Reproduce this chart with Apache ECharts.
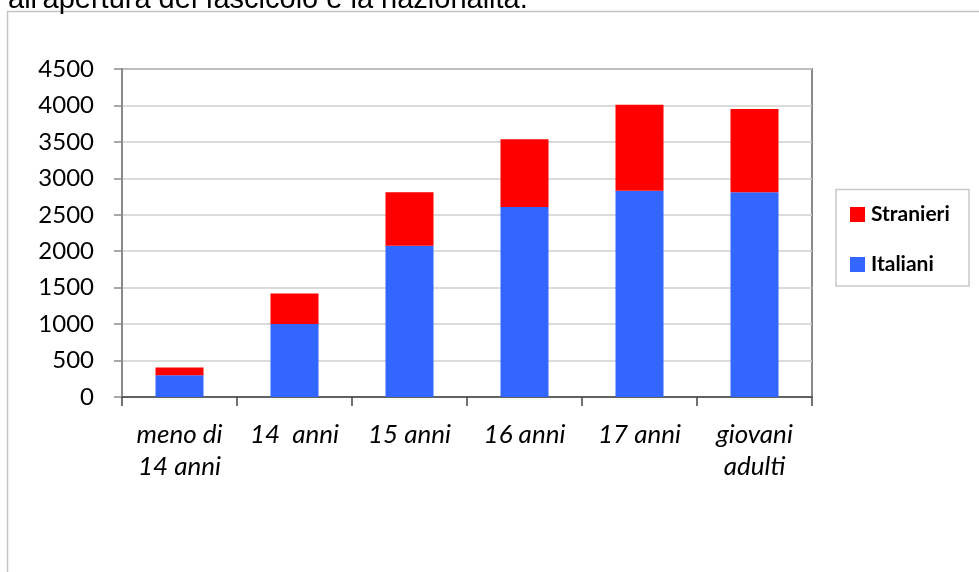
<!DOCTYPE html>
<html><head><meta charset="utf-8">
<script src="https://cdn.jsdelivr.net/npm/echarts@6/dist/echarts.min.js"></script>
<style>html,body{margin:0;padding:0;background:#fff}#c{width:979px;height:572px}</style>
</head><body><div id="c"></div>
<script>
const categories = ['meno di\n14 anni', '14  anni', '15 anni', '16 anni', '17 anni', 'giovani\nadulti'];
const italiani = [300, 1000, 2075, 2605, 2830, 2810];
const stranieri = [105, 420, 735, 930, 1180, 1140];
const yMin = 0, yMax = 4500, yInterval = 500;
const titleText = "all'apertura del fascicolo e la nazionalità.";
const legendNames = ['Stranieri', 'Italiani'];

const chart = echarts.init(document.getElementById('c'), null, {renderer: 'canvas'});
const labelFont = 'Lato';
chart.setOption({
  animation: false,
  backgroundColor: '#fff',
  graphic: [
    {type: 'rect', shape: {x: 7.5, y: 11.5, width: 1000, height: 600}, style: {fill: 'none', stroke: '#c4c4c4', lineWidth: 1.5}, z: 0},
    {type: 'rect', shape: {x: 836, y: 189.5, width: 133, height: 96.5}, style: {fill: '#fff', stroke: '#c8c8c8', lineWidth: 1.5}, z: 0},
    {type: 'text', x: 8, y: 0, style: {text: titleText, font: '29px "Liberation Sans", Arial, sans-serif', fill: '#000', verticalAlign: 'middle'}, z: 5}
  ],
  grid: {left: 122, top: 69, right: 167, bottom: 175, show: true, borderColor: '#8a8a8a', borderWidth: 2, containLabel: false},
  legend: {
    data: legendNames, orient: 'vertical', left: 850, top: 204, padding: 0,
    itemWidth: 15, itemHeight: 15, itemGap: 29, icon: 'rect',
    textStyle: {fontFamily: labelFont, fontWeight: 'bold', fontSize: 21, color: '#000', padding: [0, 0, 0, 1]}
  },
  xAxis: {
    type: 'category', data: categories,
    axisLine: {lineStyle: {color: '#444', width: 1.5}},
    axisTick: {show: true, length: 9, lineStyle: {color: '#444', width: 1.5}},
    axisLabel: {fontFamily: labelFont, fontStyle: 'italic', fontSize: 26, color: '#000', lineHeight: 32, margin: 22, interval: 0}
  },
  yAxis: {
    type: 'value', min: yMin, max: yMax, interval: yInterval,
    axisLine: {show: true, lineStyle: {color: '#8a8a8a', width: 2}},
    axisTick: {show: true, length: 8, lineStyle: {color: '#8a8a8a', width: 1.5}},
    splitLine: {lineStyle: {color: '#cfcfcf', width: 1.5}},
    axisLabel: {fontFamily: labelFont, fontSize: 24, color: '#000', margin: 28, formatter: v => String(v)}
  },
  series: [
    {name: 'Italiani', type: 'bar', stack: 'tot', data: italiani, barWidth: 48, itemStyle: {color: '#3366ff'}},
    {name: 'Stranieri', type: 'bar', stack: 'tot', data: stranieri, barWidth: 48, itemStyle: {color: '#ff0000'}}
  ]
});
</script></body></html>
